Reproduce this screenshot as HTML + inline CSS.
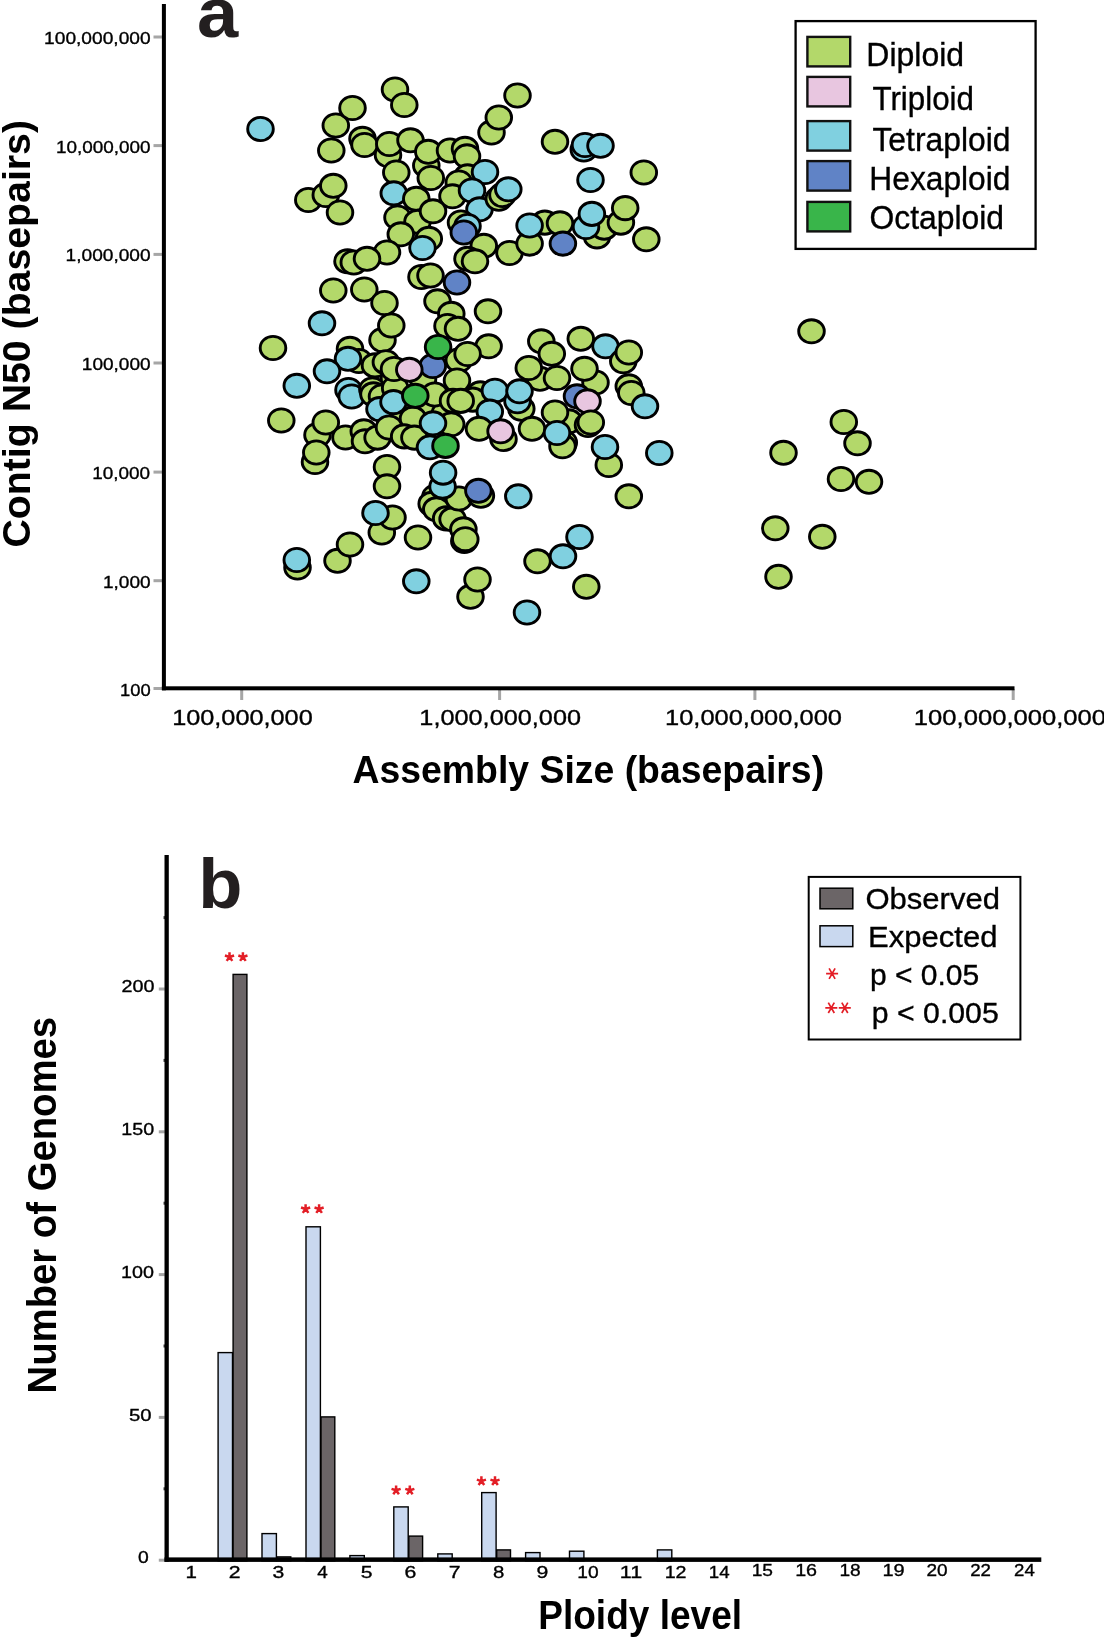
<!DOCTYPE html>
<html><head><meta charset="utf-8"><title>Figure</title>
<style>html,body{margin:0;padding:0;background:#fff}svg{display:block;will-change:transform}text{font-family:"Liberation Sans",sans-serif;fill:#000}</style></head><body>
<svg width="1104" height="1637" viewBox="0 0 1104 1637">
<rect width="1104" height="1637" fill="#fff"/>
<g id="panel-a">
<rect x="153.5" y="35.5" width="9" height="3" fill="#a6a6a6"/>
<rect x="153.5" y="144.1" width="9" height="3" fill="#a6a6a6"/>
<rect x="153.5" y="252.9" width="9" height="3" fill="#a6a6a6"/>
<rect x="153.5" y="361.5" width="9" height="3" fill="#a6a6a6"/>
<rect x="153.5" y="470.6" width="9" height="3" fill="#a6a6a6"/>
<rect x="153.5" y="579.2" width="9" height="3" fill="#a6a6a6"/>
<rect x="153.5" y="687.0" width="9" height="3" fill="#a6a6a6"/>
<rect x="240.2" y="689" width="3" height="11" fill="#a6a6a6"/>
<rect x="498.1" y="689" width="3" height="11" fill="#a6a6a6"/>
<rect x="753.4" y="689" width="3" height="11" fill="#a6a6a6"/>
<rect x="1011.7" y="689" width="3" height="11" fill="#a6a6a6"/>
<text x="44.08" y="44.0" font-size="17.2" textLength="106.54" lengthAdjust="spacingAndGlyphs" stroke="#000" stroke-width="0.35">100,000,000</text>
<text x="56.01" y="152.6" font-size="17.2" textLength="94.62" lengthAdjust="spacingAndGlyphs" stroke="#000" stroke-width="0.35">10,000,000</text>
<text x="65.57" y="261.4" font-size="17.2" textLength="85.05" lengthAdjust="spacingAndGlyphs" stroke="#000" stroke-width="0.35">1,000,000</text>
<text x="81.87" y="370.0" font-size="17.2" textLength="68.75" lengthAdjust="spacingAndGlyphs" stroke="#000" stroke-width="0.35">100,000</text>
<text x="92.29" y="479.1" font-size="17.2" textLength="57.84" lengthAdjust="spacingAndGlyphs" stroke="#000" stroke-width="0.35">10,000</text>
<text x="103.01" y="587.7" font-size="17.2" textLength="47.64" lengthAdjust="spacingAndGlyphs" stroke="#000" stroke-width="0.35">1,000</text>
<text x="120.02" y="695.5" font-size="17.2" textLength="30.66" lengthAdjust="spacingAndGlyphs" stroke="#000" stroke-width="0.35">100</text>
<text x="172.17" y="725.4" font-size="22" textLength="140.57" lengthAdjust="spacingAndGlyphs" stroke="#000" stroke-width="0.35">100,000,000</text>
<text x="419.39" y="725.4" font-size="22" textLength="161.65" lengthAdjust="spacingAndGlyphs" stroke="#000" stroke-width="0.35">1,000,000,000</text>
<text x="664.99" y="725.4" font-size="22" textLength="177.01" lengthAdjust="spacingAndGlyphs" stroke="#000" stroke-width="0.35">10,000,000,000</text>
<text x="913.80" y="725.4" font-size="22" textLength="192.30" lengthAdjust="spacingAndGlyphs" stroke="#000" stroke-width="0.35">100,000,000,000</text>
<rect x="161.9" y="4" width="4" height="686.3" fill="#000"/>
<rect x="161.9" y="686.3" width="852.6" height="4" fill="#000"/>
<ellipse cx="260.5" cy="129" rx="12.8" ry="11.6" fill="#80d0e0" stroke="#000" stroke-width="2.9"/>
<ellipse cx="395" cy="89.5" rx="12.8" ry="11.6" fill="#b3d86a" stroke="#000" stroke-width="2.9"/>
<ellipse cx="404.3" cy="105" rx="12.8" ry="11.6" fill="#b3d86a" stroke="#000" stroke-width="2.9"/>
<ellipse cx="335.8" cy="125.5" rx="12.8" ry="11.6" fill="#b3d86a" stroke="#000" stroke-width="2.9"/>
<ellipse cx="352.5" cy="108" rx="12.8" ry="11.6" fill="#b3d86a" stroke="#000" stroke-width="2.9"/>
<ellipse cx="331.3" cy="150.5" rx="12.8" ry="11.6" fill="#b3d86a" stroke="#000" stroke-width="2.9"/>
<ellipse cx="362.5" cy="138.8" rx="12.8" ry="11.6" fill="#b3d86a" stroke="#000" stroke-width="2.9"/>
<ellipse cx="364.5" cy="145" rx="12.8" ry="11.6" fill="#b3d86a" stroke="#000" stroke-width="2.9"/>
<ellipse cx="388" cy="155" rx="12.8" ry="11.6" fill="#b3d86a" stroke="#000" stroke-width="2.9"/>
<ellipse cx="389.3" cy="144" rx="12.8" ry="11.6" fill="#b3d86a" stroke="#000" stroke-width="2.9"/>
<ellipse cx="410.5" cy="140.3" rx="12.8" ry="11.6" fill="#b3d86a" stroke="#000" stroke-width="2.9"/>
<ellipse cx="426.3" cy="165.5" rx="12.8" ry="11.6" fill="#b3d86a" stroke="#000" stroke-width="2.9"/>
<ellipse cx="428.3" cy="151.8" rx="12.8" ry="11.6" fill="#b3d86a" stroke="#000" stroke-width="2.9"/>
<ellipse cx="450" cy="150.5" rx="12.8" ry="11.6" fill="#b3d86a" stroke="#000" stroke-width="2.9"/>
<ellipse cx="465" cy="148.8" rx="12.8" ry="11.6" fill="#b3d86a" stroke="#000" stroke-width="2.9"/>
<ellipse cx="467" cy="156.3" rx="12.8" ry="11.6" fill="#b3d86a" stroke="#000" stroke-width="2.9"/>
<ellipse cx="396.3" cy="172.5" rx="12.8" ry="11.6" fill="#b3d86a" stroke="#000" stroke-width="2.9"/>
<ellipse cx="430.8" cy="178" rx="12.8" ry="11.6" fill="#b3d86a" stroke="#000" stroke-width="2.9"/>
<ellipse cx="467.5" cy="176.3" rx="12.8" ry="11.6" fill="#b3d86a" stroke="#000" stroke-width="2.9"/>
<ellipse cx="458.8" cy="182.5" rx="12.8" ry="11.6" fill="#b3d86a" stroke="#000" stroke-width="2.9"/>
<ellipse cx="452.5" cy="196.3" rx="12.8" ry="11.6" fill="#b3d86a" stroke="#000" stroke-width="2.9"/>
<ellipse cx="485" cy="172" rx="12.8" ry="11.6" fill="#80d0e0" stroke="#000" stroke-width="2.9"/>
<ellipse cx="472" cy="190.5" rx="12.8" ry="11.6" fill="#80d0e0" stroke="#000" stroke-width="2.9"/>
<ellipse cx="393.8" cy="193.3" rx="12.8" ry="11.6" fill="#80d0e0" stroke="#000" stroke-width="2.9"/>
<ellipse cx="416.3" cy="198.8" rx="12.8" ry="11.6" fill="#b3d86a" stroke="#000" stroke-width="2.9"/>
<ellipse cx="479.5" cy="209.3" rx="12.8" ry="11.6" fill="#80d0e0" stroke="#000" stroke-width="2.9"/>
<ellipse cx="308.3" cy="200" rx="12.8" ry="11.6" fill="#b3d86a" stroke="#000" stroke-width="2.9"/>
<ellipse cx="325.8" cy="195" rx="12.8" ry="11.6" fill="#b3d86a" stroke="#000" stroke-width="2.9"/>
<ellipse cx="333.3" cy="185.8" rx="12.8" ry="11.6" fill="#b3d86a" stroke="#000" stroke-width="2.9"/>
<ellipse cx="340" cy="212.5" rx="12.8" ry="11.6" fill="#b3d86a" stroke="#000" stroke-width="2.9"/>
<ellipse cx="397.5" cy="217.5" rx="12.8" ry="11.6" fill="#b3d86a" stroke="#000" stroke-width="2.9"/>
<ellipse cx="417.5" cy="221.8" rx="12.8" ry="11.6" fill="#b3d86a" stroke="#000" stroke-width="2.9"/>
<ellipse cx="433" cy="211.3" rx="12.8" ry="11.6" fill="#b3d86a" stroke="#000" stroke-width="2.9"/>
<ellipse cx="400.8" cy="234.3" rx="12.8" ry="11.6" fill="#b3d86a" stroke="#000" stroke-width="2.9"/>
<ellipse cx="428.8" cy="238.8" rx="12.8" ry="11.6" fill="#b3d86a" stroke="#000" stroke-width="2.9"/>
<ellipse cx="422.5" cy="248" rx="12.8" ry="11.6" fill="#80d0e0" stroke="#000" stroke-width="2.9"/>
<ellipse cx="387" cy="252.5" rx="12.8" ry="11.6" fill="#b3d86a" stroke="#000" stroke-width="2.9"/>
<ellipse cx="347.5" cy="261.3" rx="12.8" ry="11.6" fill="#b3d86a" stroke="#000" stroke-width="2.9"/>
<ellipse cx="353.8" cy="262.5" rx="12.8" ry="11.6" fill="#b3d86a" stroke="#000" stroke-width="2.9"/>
<ellipse cx="367" cy="258.8" rx="12.8" ry="11.6" fill="#b3d86a" stroke="#000" stroke-width="2.9"/>
<ellipse cx="461" cy="222.5" rx="12.8" ry="11.6" fill="#b3d86a" stroke="#000" stroke-width="2.9"/>
<ellipse cx="467.5" cy="226" rx="12.8" ry="11.6" fill="#80d0e0" stroke="#000" stroke-width="2.9"/>
<ellipse cx="463.8" cy="232.5" rx="12.8" ry="11.6" fill="#6083c6" stroke="#000" stroke-width="2.9"/>
<ellipse cx="483.8" cy="245.8" rx="12.8" ry="11.6" fill="#b3d86a" stroke="#000" stroke-width="2.9"/>
<ellipse cx="467.5" cy="258.8" rx="12.8" ry="11.6" fill="#b3d86a" stroke="#000" stroke-width="2.9"/>
<ellipse cx="475" cy="261.3" rx="12.8" ry="11.6" fill="#b3d86a" stroke="#000" stroke-width="2.9"/>
<ellipse cx="491.5" cy="132.5" rx="12.8" ry="11.6" fill="#b3d86a" stroke="#000" stroke-width="2.9"/>
<ellipse cx="498.8" cy="117.5" rx="12.8" ry="11.6" fill="#b3d86a" stroke="#000" stroke-width="2.9"/>
<ellipse cx="517.5" cy="95.5" rx="12.8" ry="11.6" fill="#b3d86a" stroke="#000" stroke-width="2.9"/>
<ellipse cx="498.8" cy="198.8" rx="12.8" ry="11.6" fill="#b3d86a" stroke="#000" stroke-width="2.9"/>
<ellipse cx="502.5" cy="195" rx="12.8" ry="11.6" fill="#b3d86a" stroke="#000" stroke-width="2.9"/>
<ellipse cx="508.3" cy="189.3" rx="12.8" ry="11.6" fill="#80d0e0" stroke="#000" stroke-width="2.9"/>
<ellipse cx="509.5" cy="253" rx="12.8" ry="11.6" fill="#b3d86a" stroke="#000" stroke-width="2.9"/>
<ellipse cx="555" cy="141.8" rx="12.8" ry="11.6" fill="#b3d86a" stroke="#000" stroke-width="2.9"/>
<ellipse cx="583.8" cy="149.5" rx="12.8" ry="11.6" fill="#80d0e0" stroke="#000" stroke-width="2.9"/>
<ellipse cx="585" cy="145" rx="12.8" ry="11.6" fill="#80d0e0" stroke="#000" stroke-width="2.9"/>
<ellipse cx="600.5" cy="145.8" rx="12.8" ry="11.6" fill="#80d0e0" stroke="#000" stroke-width="2.9"/>
<ellipse cx="590.5" cy="180" rx="12.8" ry="11.6" fill="#80d0e0" stroke="#000" stroke-width="2.9"/>
<ellipse cx="643.8" cy="172.5" rx="12.8" ry="11.6" fill="#b3d86a" stroke="#000" stroke-width="2.9"/>
<ellipse cx="529.6" cy="243.6" rx="12.8" ry="11.6" fill="#b3d86a" stroke="#000" stroke-width="2.9"/>
<ellipse cx="544.8" cy="222.6" rx="12.8" ry="11.6" fill="#b3d86a" stroke="#000" stroke-width="2.9"/>
<ellipse cx="529.6" cy="225.5" rx="12.8" ry="11.6" fill="#80d0e0" stroke="#000" stroke-width="2.9"/>
<ellipse cx="560" cy="223.3" rx="12.8" ry="11.6" fill="#b3d86a" stroke="#000" stroke-width="2.9"/>
<ellipse cx="562.9" cy="243.6" rx="12.8" ry="11.6" fill="#6083c6" stroke="#000" stroke-width="2.9"/>
<ellipse cx="597" cy="236.4" rx="12.8" ry="11.6" fill="#b3d86a" stroke="#000" stroke-width="2.9"/>
<ellipse cx="604.2" cy="227.7" rx="12.8" ry="11.6" fill="#b3d86a" stroke="#000" stroke-width="2.9"/>
<ellipse cx="586" cy="227" rx="12.8" ry="11.6" fill="#80d0e0" stroke="#000" stroke-width="2.9"/>
<ellipse cx="591.9" cy="213.9" rx="12.8" ry="11.6" fill="#80d0e0" stroke="#000" stroke-width="2.9"/>
<ellipse cx="620.9" cy="222.6" rx="12.8" ry="11.6" fill="#b3d86a" stroke="#000" stroke-width="2.9"/>
<ellipse cx="625.2" cy="208.1" rx="12.8" ry="11.6" fill="#b3d86a" stroke="#000" stroke-width="2.9"/>
<ellipse cx="646.3" cy="239.3" rx="12.8" ry="11.6" fill="#b3d86a" stroke="#000" stroke-width="2.9"/>
<ellipse cx="333.3" cy="290.5" rx="12.8" ry="11.6" fill="#b3d86a" stroke="#000" stroke-width="2.9"/>
<ellipse cx="364.3" cy="289.5" rx="12.8" ry="11.6" fill="#b3d86a" stroke="#000" stroke-width="2.9"/>
<ellipse cx="384.5" cy="303" rx="12.8" ry="11.6" fill="#b3d86a" stroke="#000" stroke-width="2.9"/>
<ellipse cx="382.5" cy="340" rx="12.8" ry="11.6" fill="#b3d86a" stroke="#000" stroke-width="2.9"/>
<ellipse cx="391.3" cy="325.5" rx="12.8" ry="11.6" fill="#b3d86a" stroke="#000" stroke-width="2.9"/>
<ellipse cx="322" cy="323.3" rx="12.8" ry="11.6" fill="#80d0e0" stroke="#000" stroke-width="2.9"/>
<ellipse cx="273" cy="348" rx="12.8" ry="11.6" fill="#b3d86a" stroke="#000" stroke-width="2.9"/>
<ellipse cx="350" cy="348.8" rx="12.8" ry="11.6" fill="#b3d86a" stroke="#000" stroke-width="2.9"/>
<ellipse cx="358.8" cy="361" rx="12.8" ry="11.6" fill="#b3d86a" stroke="#000" stroke-width="2.9"/>
<ellipse cx="348" cy="358.8" rx="12.8" ry="11.6" fill="#80d0e0" stroke="#000" stroke-width="2.9"/>
<ellipse cx="327" cy="371.3" rx="12.8" ry="11.6" fill="#80d0e0" stroke="#000" stroke-width="2.9"/>
<ellipse cx="296.8" cy="385.8" rx="12.8" ry="11.6" fill="#80d0e0" stroke="#000" stroke-width="2.9"/>
<ellipse cx="375" cy="365.4" rx="12.8" ry="11.6" fill="#b3d86a" stroke="#000" stroke-width="2.9"/>
<ellipse cx="385.9" cy="362.2" rx="12.8" ry="11.6" fill="#b3d86a" stroke="#000" stroke-width="2.9"/>
<ellipse cx="421.5" cy="277" rx="12.8" ry="11.6" fill="#b3d86a" stroke="#000" stroke-width="2.9"/>
<ellipse cx="430.5" cy="275.5" rx="12.8" ry="11.6" fill="#b3d86a" stroke="#000" stroke-width="2.9"/>
<ellipse cx="457" cy="282.5" rx="12.8" ry="11.6" fill="#6083c6" stroke="#000" stroke-width="2.9"/>
<ellipse cx="437.5" cy="301.3" rx="12.8" ry="11.6" fill="#b3d86a" stroke="#000" stroke-width="2.9"/>
<ellipse cx="451.3" cy="313.8" rx="12.8" ry="11.6" fill="#b3d86a" stroke="#000" stroke-width="2.9"/>
<ellipse cx="447.5" cy="326" rx="12.8" ry="11.6" fill="#b3d86a" stroke="#000" stroke-width="2.9"/>
<ellipse cx="458" cy="328.8" rx="12.8" ry="11.6" fill="#b3d86a" stroke="#000" stroke-width="2.9"/>
<ellipse cx="488" cy="311.3" rx="12.8" ry="11.6" fill="#b3d86a" stroke="#000" stroke-width="2.9"/>
<ellipse cx="488.6" cy="346.3" rx="12.8" ry="11.6" fill="#b3d86a" stroke="#000" stroke-width="2.9"/>
<ellipse cx="458.8" cy="360.3" rx="12.8" ry="11.6" fill="#b3d86a" stroke="#000" stroke-width="2.9"/>
<ellipse cx="467.6" cy="354" rx="12.8" ry="11.6" fill="#b3d86a" stroke="#000" stroke-width="2.9"/>
<ellipse cx="457" cy="380.5" rx="12.8" ry="11.6" fill="#b3d86a" stroke="#000" stroke-width="2.9"/>
<ellipse cx="348.5" cy="390" rx="12.8" ry="11.6" fill="#80d0e0" stroke="#000" stroke-width="2.9"/>
<ellipse cx="351.7" cy="396.5" rx="12.8" ry="11.6" fill="#80d0e0" stroke="#000" stroke-width="2.9"/>
<ellipse cx="372.4" cy="389.5" rx="12.8" ry="11.6" fill="#b3d86a" stroke="#000" stroke-width="2.9"/>
<ellipse cx="373.5" cy="394.3" rx="12.8" ry="11.6" fill="#b3d86a" stroke="#000" stroke-width="2.9"/>
<ellipse cx="382" cy="396.5" rx="12.8" ry="11.6" fill="#b3d86a" stroke="#000" stroke-width="2.9"/>
<ellipse cx="394" cy="378.5" rx="12.8" ry="11.6" fill="#b3d86a" stroke="#000" stroke-width="2.9"/>
<ellipse cx="395.2" cy="388.2" rx="12.8" ry="11.6" fill="#b3d86a" stroke="#000" stroke-width="2.9"/>
<ellipse cx="423" cy="379" rx="12.8" ry="11.6" fill="#b3d86a" stroke="#000" stroke-width="2.9"/>
<ellipse cx="394" cy="369" rx="12.8" ry="11.6" fill="#b3d86a" stroke="#000" stroke-width="2.9"/>
<ellipse cx="432.8" cy="366" rx="12.8" ry="11.6" fill="#6083c6" stroke="#000" stroke-width="2.9"/>
<ellipse cx="409.3" cy="369.8" rx="12.8" ry="11.6" fill="#e8c6e0" stroke="#000" stroke-width="2.9"/>
<ellipse cx="438.1" cy="347" rx="12.8" ry="11.6" fill="#39b54a" stroke="#000" stroke-width="2.9"/>
<ellipse cx="404.9" cy="416" rx="12.8" ry="11.6" fill="#b3d86a" stroke="#000" stroke-width="2.9"/>
<ellipse cx="423.3" cy="411" rx="12.8" ry="11.6" fill="#b3d86a" stroke="#000" stroke-width="2.9"/>
<ellipse cx="413" cy="418.6" rx="12.8" ry="11.6" fill="#b3d86a" stroke="#000" stroke-width="2.9"/>
<ellipse cx="444.8" cy="413.5" rx="12.8" ry="11.6" fill="#b3d86a" stroke="#000" stroke-width="2.9"/>
<ellipse cx="434.7" cy="394.5" rx="12.8" ry="11.6" fill="#b3d86a" stroke="#000" stroke-width="2.9"/>
<ellipse cx="480.3" cy="393.3" rx="12.8" ry="11.6" fill="#b3d86a" stroke="#000" stroke-width="2.9"/>
<ellipse cx="472.7" cy="399.6" rx="12.8" ry="11.6" fill="#b3d86a" stroke="#000" stroke-width="2.9"/>
<ellipse cx="453" cy="400.9" rx="12.8" ry="11.6" fill="#b3d86a" stroke="#000" stroke-width="2.9"/>
<ellipse cx="460.7" cy="400.9" rx="12.8" ry="11.6" fill="#b3d86a" stroke="#000" stroke-width="2.9"/>
<ellipse cx="379.5" cy="409.1" rx="12.8" ry="11.6" fill="#80d0e0" stroke="#000" stroke-width="2.9"/>
<ellipse cx="393.5" cy="402.1" rx="12.8" ry="11.6" fill="#80d0e0" stroke="#000" stroke-width="2.9"/>
<ellipse cx="415.3" cy="395.8" rx="12.8" ry="11.6" fill="#39b54a" stroke="#000" stroke-width="2.9"/>
<ellipse cx="494.9" cy="390.7" rx="12.8" ry="11.6" fill="#80d0e0" stroke="#000" stroke-width="2.9"/>
<ellipse cx="489.8" cy="411.6" rx="12.8" ry="11.6" fill="#80d0e0" stroke="#000" stroke-width="2.9"/>
<ellipse cx="479" cy="428.8" rx="12.8" ry="11.6" fill="#b3d86a" stroke="#000" stroke-width="2.9"/>
<ellipse cx="503.5" cy="439" rx="12.8" ry="11.6" fill="#b3d86a" stroke="#000" stroke-width="2.9"/>
<ellipse cx="500.6" cy="431.3" rx="12.8" ry="11.6" fill="#e8c6e0" stroke="#000" stroke-width="2.9"/>
<ellipse cx="281.3" cy="420.5" rx="12.8" ry="11.6" fill="#b3d86a" stroke="#000" stroke-width="2.9"/>
<ellipse cx="317.5" cy="435" rx="12.8" ry="11.6" fill="#b3d86a" stroke="#000" stroke-width="2.9"/>
<ellipse cx="325.8" cy="422.5" rx="12.8" ry="11.6" fill="#b3d86a" stroke="#000" stroke-width="2.9"/>
<ellipse cx="315" cy="462" rx="12.8" ry="11.6" fill="#b3d86a" stroke="#000" stroke-width="2.9"/>
<ellipse cx="316.3" cy="452.5" rx="12.8" ry="11.6" fill="#b3d86a" stroke="#000" stroke-width="2.9"/>
<ellipse cx="345.5" cy="437.5" rx="12.8" ry="11.6" fill="#b3d86a" stroke="#000" stroke-width="2.9"/>
<ellipse cx="363.8" cy="431.3" rx="12.8" ry="11.6" fill="#b3d86a" stroke="#000" stroke-width="2.9"/>
<ellipse cx="365" cy="441.3" rx="12.8" ry="11.6" fill="#b3d86a" stroke="#000" stroke-width="2.9"/>
<ellipse cx="377.6" cy="437.6" rx="12.8" ry="11.6" fill="#b3d86a" stroke="#000" stroke-width="2.9"/>
<ellipse cx="389" cy="427.5" rx="12.8" ry="11.6" fill="#b3d86a" stroke="#000" stroke-width="2.9"/>
<ellipse cx="404.2" cy="436.4" rx="12.8" ry="11.6" fill="#b3d86a" stroke="#000" stroke-width="2.9"/>
<ellipse cx="414.4" cy="437.6" rx="12.8" ry="11.6" fill="#b3d86a" stroke="#000" stroke-width="2.9"/>
<ellipse cx="451.2" cy="424.3" rx="12.8" ry="11.6" fill="#b3d86a" stroke="#000" stroke-width="2.9"/>
<ellipse cx="433" cy="423.3" rx="12.8" ry="11.6" fill="#80d0e0" stroke="#000" stroke-width="2.9"/>
<ellipse cx="430" cy="447.3" rx="12.8" ry="11.6" fill="#80d0e0" stroke="#000" stroke-width="2.9"/>
<ellipse cx="445.5" cy="445.9" rx="12.8" ry="11.6" fill="#39b54a" stroke="#000" stroke-width="2.9"/>
<ellipse cx="387" cy="467" rx="12.8" ry="11.6" fill="#b3d86a" stroke="#000" stroke-width="2.9"/>
<ellipse cx="387" cy="486.3" rx="12.8" ry="11.6" fill="#b3d86a" stroke="#000" stroke-width="2.9"/>
<ellipse cx="541.3" cy="341.3" rx="12.8" ry="11.6" fill="#b3d86a" stroke="#000" stroke-width="2.9"/>
<ellipse cx="551.8" cy="353.8" rx="12.8" ry="11.6" fill="#b3d86a" stroke="#000" stroke-width="2.9"/>
<ellipse cx="580.8" cy="338.8" rx="12.8" ry="11.6" fill="#b3d86a" stroke="#000" stroke-width="2.9"/>
<ellipse cx="605.5" cy="346.3" rx="12.8" ry="11.6" fill="#80d0e0" stroke="#000" stroke-width="2.9"/>
<ellipse cx="623.3" cy="361.3" rx="12.8" ry="11.6" fill="#b3d86a" stroke="#000" stroke-width="2.9"/>
<ellipse cx="628.8" cy="352.5" rx="12.8" ry="11.6" fill="#b3d86a" stroke="#000" stroke-width="2.9"/>
<ellipse cx="540" cy="378.8" rx="12.8" ry="11.6" fill="#b3d86a" stroke="#000" stroke-width="2.9"/>
<ellipse cx="528.8" cy="368" rx="12.8" ry="11.6" fill="#b3d86a" stroke="#000" stroke-width="2.9"/>
<ellipse cx="557" cy="378" rx="12.8" ry="11.6" fill="#b3d86a" stroke="#000" stroke-width="2.9"/>
<ellipse cx="595.5" cy="382.5" rx="12.8" ry="11.6" fill="#b3d86a" stroke="#000" stroke-width="2.9"/>
<ellipse cx="584.5" cy="368.8" rx="12.8" ry="11.6" fill="#b3d86a" stroke="#000" stroke-width="2.9"/>
<ellipse cx="577" cy="396.3" rx="12.8" ry="11.6" fill="#6083c6" stroke="#000" stroke-width="2.9"/>
<ellipse cx="587.5" cy="401.3" rx="12.8" ry="11.6" fill="#e8c6e0" stroke="#000" stroke-width="2.9"/>
<ellipse cx="628.8" cy="386.3" rx="12.8" ry="11.6" fill="#b3d86a" stroke="#000" stroke-width="2.9"/>
<ellipse cx="631.3" cy="393" rx="12.8" ry="11.6" fill="#b3d86a" stroke="#000" stroke-width="2.9"/>
<ellipse cx="645" cy="406.3" rx="12.8" ry="11.6" fill="#80d0e0" stroke="#000" stroke-width="2.9"/>
<ellipse cx="521.3" cy="408.8" rx="12.8" ry="11.6" fill="#b3d86a" stroke="#000" stroke-width="2.9"/>
<ellipse cx="517.5" cy="401.3" rx="12.8" ry="11.6" fill="#80d0e0" stroke="#000" stroke-width="2.9"/>
<ellipse cx="519.5" cy="391.3" rx="12.8" ry="11.6" fill="#80d0e0" stroke="#000" stroke-width="2.9"/>
<ellipse cx="532" cy="428.8" rx="12.8" ry="11.6" fill="#b3d86a" stroke="#000" stroke-width="2.9"/>
<ellipse cx="568.8" cy="421.3" rx="12.8" ry="11.6" fill="#b3d86a" stroke="#000" stroke-width="2.9"/>
<ellipse cx="555" cy="412.5" rx="12.8" ry="11.6" fill="#b3d86a" stroke="#000" stroke-width="2.9"/>
<ellipse cx="588" cy="425" rx="12.8" ry="11.6" fill="#b3d86a" stroke="#000" stroke-width="2.9"/>
<ellipse cx="590.8" cy="422.5" rx="12.8" ry="11.6" fill="#b3d86a" stroke="#000" stroke-width="2.9"/>
<ellipse cx="563.8" cy="442.5" rx="12.8" ry="11.6" fill="#b3d86a" stroke="#000" stroke-width="2.9"/>
<ellipse cx="562.5" cy="446.3" rx="12.8" ry="11.6" fill="#b3d86a" stroke="#000" stroke-width="2.9"/>
<ellipse cx="557" cy="433" rx="12.8" ry="11.6" fill="#80d0e0" stroke="#000" stroke-width="2.9"/>
<ellipse cx="608.8" cy="465" rx="12.8" ry="11.6" fill="#b3d86a" stroke="#000" stroke-width="2.9"/>
<ellipse cx="605" cy="447" rx="12.8" ry="11.6" fill="#80d0e0" stroke="#000" stroke-width="2.9"/>
<ellipse cx="659.3" cy="453" rx="12.8" ry="11.6" fill="#80d0e0" stroke="#000" stroke-width="2.9"/>
<ellipse cx="435.4" cy="496.7" rx="12.8" ry="11.6" fill="#b3d86a" stroke="#000" stroke-width="2.9"/>
<ellipse cx="431.7" cy="503.9" rx="12.8" ry="11.6" fill="#b3d86a" stroke="#000" stroke-width="2.9"/>
<ellipse cx="436.3" cy="509.3" rx="12.8" ry="11.6" fill="#b3d86a" stroke="#000" stroke-width="2.9"/>
<ellipse cx="446.2" cy="518.4" rx="12.8" ry="11.6" fill="#b3d86a" stroke="#000" stroke-width="2.9"/>
<ellipse cx="452.6" cy="519.3" rx="12.8" ry="11.6" fill="#b3d86a" stroke="#000" stroke-width="2.9"/>
<ellipse cx="458.9" cy="498.5" rx="12.8" ry="11.6" fill="#b3d86a" stroke="#000" stroke-width="2.9"/>
<ellipse cx="463.4" cy="529.3" rx="12.8" ry="11.6" fill="#b3d86a" stroke="#000" stroke-width="2.9"/>
<ellipse cx="464.3" cy="541" rx="12.8" ry="11.6" fill="#b3d86a" stroke="#000" stroke-width="2.9"/>
<ellipse cx="465.3" cy="539.2" rx="12.8" ry="11.6" fill="#b3d86a" stroke="#000" stroke-width="2.9"/>
<ellipse cx="442.6" cy="486.7" rx="12.8" ry="11.6" fill="#80d0e0" stroke="#000" stroke-width="2.9"/>
<ellipse cx="443.1" cy="472.7" rx="12.8" ry="11.6" fill="#80d0e0" stroke="#000" stroke-width="2.9"/>
<ellipse cx="480.9" cy="495.8" rx="12.8" ry="11.6" fill="#b3d86a" stroke="#000" stroke-width="2.9"/>
<ellipse cx="478.4" cy="490.8" rx="12.8" ry="11.6" fill="#6083c6" stroke="#000" stroke-width="2.9"/>
<ellipse cx="381.8" cy="532.5" rx="12.8" ry="11.6" fill="#b3d86a" stroke="#000" stroke-width="2.9"/>
<ellipse cx="392.5" cy="517.5" rx="12.8" ry="11.6" fill="#b3d86a" stroke="#000" stroke-width="2.9"/>
<ellipse cx="375.5" cy="513" rx="12.8" ry="11.6" fill="#80d0e0" stroke="#000" stroke-width="2.9"/>
<ellipse cx="418" cy="537.5" rx="12.8" ry="11.6" fill="#b3d86a" stroke="#000" stroke-width="2.9"/>
<ellipse cx="337.5" cy="560.8" rx="12.8" ry="11.6" fill="#b3d86a" stroke="#000" stroke-width="2.9"/>
<ellipse cx="350" cy="544.5" rx="12.8" ry="11.6" fill="#b3d86a" stroke="#000" stroke-width="2.9"/>
<ellipse cx="297.5" cy="567.5" rx="12.8" ry="11.6" fill="#b3d86a" stroke="#000" stroke-width="2.9"/>
<ellipse cx="296.8" cy="560" rx="12.8" ry="11.6" fill="#80d0e0" stroke="#000" stroke-width="2.9"/>
<ellipse cx="416.3" cy="581.3" rx="12.8" ry="11.6" fill="#80d0e0" stroke="#000" stroke-width="2.9"/>
<ellipse cx="470.5" cy="596.8" rx="12.8" ry="11.6" fill="#b3d86a" stroke="#000" stroke-width="2.9"/>
<ellipse cx="477.5" cy="579.5" rx="12.8" ry="11.6" fill="#b3d86a" stroke="#000" stroke-width="2.9"/>
<ellipse cx="518.3" cy="496.3" rx="12.8" ry="11.6" fill="#80d0e0" stroke="#000" stroke-width="2.9"/>
<ellipse cx="628.8" cy="496.3" rx="12.8" ry="11.6" fill="#b3d86a" stroke="#000" stroke-width="2.9"/>
<ellipse cx="579.5" cy="537" rx="12.8" ry="11.6" fill="#80d0e0" stroke="#000" stroke-width="2.9"/>
<ellipse cx="537.5" cy="561.3" rx="12.8" ry="11.6" fill="#b3d86a" stroke="#000" stroke-width="2.9"/>
<ellipse cx="563" cy="556.3" rx="12.8" ry="11.6" fill="#80d0e0" stroke="#000" stroke-width="2.9"/>
<ellipse cx="586.3" cy="586.8" rx="12.8" ry="11.6" fill="#b3d86a" stroke="#000" stroke-width="2.9"/>
<ellipse cx="527" cy="612.5" rx="12.8" ry="11.6" fill="#80d0e0" stroke="#000" stroke-width="2.9"/>
<ellipse cx="811.5" cy="331.3" rx="12.8" ry="11.6" fill="#b3d86a" stroke="#000" stroke-width="2.9"/>
<ellipse cx="843.8" cy="422" rx="12.8" ry="11.6" fill="#b3d86a" stroke="#000" stroke-width="2.9"/>
<ellipse cx="857.5" cy="443.3" rx="12.8" ry="11.6" fill="#b3d86a" stroke="#000" stroke-width="2.9"/>
<ellipse cx="783.5" cy="452.8" rx="12.8" ry="11.6" fill="#b3d86a" stroke="#000" stroke-width="2.9"/>
<ellipse cx="841" cy="479" rx="12.8" ry="11.6" fill="#b3d86a" stroke="#000" stroke-width="2.9"/>
<ellipse cx="869" cy="481.8" rx="12.8" ry="11.6" fill="#b3d86a" stroke="#000" stroke-width="2.9"/>
<ellipse cx="775.3" cy="528.3" rx="12.8" ry="11.6" fill="#b3d86a" stroke="#000" stroke-width="2.9"/>
<ellipse cx="822.3" cy="536.8" rx="12.8" ry="11.6" fill="#b3d86a" stroke="#000" stroke-width="2.9"/>
<ellipse cx="778.5" cy="576.8" rx="12.8" ry="11.6" fill="#b3d86a" stroke="#000" stroke-width="2.9"/>
<text x="196.9" y="37.4" font-size="70" font-weight="bold" textLength="41.2" lengthAdjust="spacingAndGlyphs" style="fill:#231f20">a</text>
<rect x="795.6" y="21.1" width="240" height="227.8" fill="#fff" stroke="#000" stroke-width="2.3"/>
<rect x="807.4" y="36.9" width="42.8" height="29.5" fill="#b3d86a" stroke="#111" stroke-width="2.4"/>
<rect x="807.4" y="76.9" width="42.8" height="29.5" fill="#e8c6e0" stroke="#111" stroke-width="2.4"/>
<rect x="807.4" y="121.1" width="42.8" height="29.5" fill="#80d0e0" stroke="#111" stroke-width="2.4"/>
<rect x="807.4" y="161.1" width="42.8" height="29.5" fill="#6083c6" stroke="#111" stroke-width="2.4"/>
<rect x="807.4" y="201.9" width="42.8" height="29.5" fill="#39b54a" stroke="#111" stroke-width="2.4"/>
<text x="866.33" y="65.5" font-size="32.3" textLength="97.74" lengthAdjust="spacingAndGlyphs" stroke="#000" stroke-width="0.35">Diploid</text>
<text x="872.46" y="109.5" font-size="32.3" textLength="101.54" lengthAdjust="spacingAndGlyphs" stroke="#000" stroke-width="0.35">Triploid</text>
<text x="872.47" y="150.5" font-size="32.3" textLength="137.94" lengthAdjust="spacingAndGlyphs" stroke="#000" stroke-width="0.35">Tetraploid</text>
<text x="869.36" y="189.5" font-size="32.3" textLength="141.08" lengthAdjust="spacingAndGlyphs" stroke="#000" stroke-width="0.35">Hexaploid</text>
<text x="869.46" y="228.8" font-size="32.3" textLength="134.56" lengthAdjust="spacingAndGlyphs" stroke="#000" stroke-width="0.35">Octaploid</text>
<text x="352.49" y="783.2" font-size="38" font-weight="bold" textLength="471.62" lengthAdjust="spacingAndGlyphs">Assembly Size (basepairs)</text>
<text transform="translate(29.6,547.52) rotate(-90)" font-size="39" font-weight="bold" textLength="427.54" lengthAdjust="spacingAndGlyphs">Contig N50 (basepairs)</text>
</g>
<g id="panel-b">
<rect x="158.8" y="987.5" width="6" height="3" fill="#a6a6a6"/>
<rect x="158.8" y="1130.3" width="6" height="3" fill="#a6a6a6"/>
<rect x="158.8" y="1273.1" width="6" height="3" fill="#a6a6a6"/>
<rect x="158.8" y="1415.9" width="6" height="3" fill="#a6a6a6"/>
<rect x="158.8" y="1558.7" width="6" height="3" fill="#a6a6a6"/>
<rect x="163.5" y="1487.3" width="1.5" height="3" fill="#444"/>
<rect x="163.5" y="1344.5" width="1.5" height="3" fill="#444"/>
<rect x="163.5" y="1201.7" width="1.5" height="3" fill="#444"/>
<rect x="163.5" y="1058.9" width="1.5" height="3" fill="#444"/>
<rect x="163.5" y="916.1" width="1.5" height="3" fill="#444"/>
<text x="121.53" y="992.2" font-size="17" textLength="32.93" lengthAdjust="spacingAndGlyphs" stroke="#000" stroke-width="0.35">200</text>
<text x="121.25" y="1135.0" font-size="17" textLength="32.84" lengthAdjust="spacingAndGlyphs" stroke="#000" stroke-width="0.35">150</text>
<text x="121.03" y="1277.8" font-size="17" textLength="32.93" lengthAdjust="spacingAndGlyphs" stroke="#000" stroke-width="0.35">100</text>
<text x="129.08" y="1420.6" font-size="17" textLength="22.59" lengthAdjust="spacingAndGlyphs" stroke="#000" stroke-width="0.35">50</text>
<text x="138.00" y="1563.4" font-size="17" textLength="10.75" lengthAdjust="spacingAndGlyphs" stroke="#000" stroke-width="0.35">0</text>
<text x="185.45" y="1577.5" font-size="17.2" textLength="11.40" lengthAdjust="spacingAndGlyphs" stroke="#000" stroke-width="0.35">1</text>
<rect x="218.1" y="1352.6" width="14.4" height="208.2" fill="#c9d8ef" stroke="#000" stroke-width="1.4"/>
<rect x="233.1" y="974.4" width="13.8" height="586.4" fill="#6b6567" stroke="#000" stroke-width="1.4"/>
<text x="228.79" y="1577.5" font-size="17.2" textLength="11.80" lengthAdjust="spacingAndGlyphs" stroke="#000" stroke-width="0.35">2</text>
<rect x="262.0" y="1533.6" width="14.4" height="27.2" fill="#c9d8ef" stroke="#000" stroke-width="1.4"/>
<rect x="277.0" y="1556.9" width="13.8" height="3.9" fill="#6b6567" stroke="#000" stroke-width="1.4"/>
<text x="272.57" y="1577.5" font-size="17.2" textLength="11.78" lengthAdjust="spacingAndGlyphs" stroke="#000" stroke-width="0.35">3</text>
<rect x="306.0" y="1226.8" width="14.4" height="334.0" fill="#c9d8ef" stroke="#000" stroke-width="1.4"/>
<rect x="321.0" y="1416.9" width="13.8" height="143.9" fill="#6b6567" stroke="#000" stroke-width="1.4"/>
<text x="317.25" y="1577.5" font-size="17.2" textLength="10.48" lengthAdjust="spacingAndGlyphs" stroke="#000" stroke-width="0.35">4</text>
<rect x="349.9" y="1555.6" width="14.4" height="5.2" fill="#c9d8ef" stroke="#000" stroke-width="1.4"/>
<text x="360.73" y="1577.5" font-size="17.2" textLength="11.77" lengthAdjust="spacingAndGlyphs" stroke="#000" stroke-width="0.35">5</text>
<rect x="393.8" y="1506.9" width="14.4" height="53.9" fill="#c9d8ef" stroke="#000" stroke-width="1.4"/>
<rect x="408.8" y="1536.1" width="13.8" height="24.7" fill="#6b6567" stroke="#000" stroke-width="1.4"/>
<text x="404.56" y="1577.5" font-size="17.2" textLength="11.80" lengthAdjust="spacingAndGlyphs" stroke="#000" stroke-width="0.35">6</text>
<rect x="437.8" y="1553.9" width="14.4" height="6.9" fill="#c9d8ef" stroke="#000" stroke-width="1.4"/>
<text x="448.83" y="1577.5" font-size="17.2" textLength="11.80" lengthAdjust="spacingAndGlyphs" stroke="#000" stroke-width="0.35">7</text>
<rect x="481.7" y="1492.6" width="14.4" height="68.2" fill="#c9d8ef" stroke="#000" stroke-width="1.4"/>
<rect x="496.7" y="1549.9" width="13.8" height="10.9" fill="#6b6567" stroke="#000" stroke-width="1.4"/>
<text x="493.13" y="1577.5" font-size="17.2" textLength="11.33" lengthAdjust="spacingAndGlyphs" stroke="#000" stroke-width="0.35">8</text>
<rect x="525.6" y="1552.6" width="14.4" height="8.2" fill="#c9d8ef" stroke="#000" stroke-width="1.4"/>
<text x="536.47" y="1577.5" font-size="17.2" textLength="11.80" lengthAdjust="spacingAndGlyphs" stroke="#000" stroke-width="0.35">9</text>
<rect x="569.5" y="1551.2" width="14.4" height="9.6" fill="#c9d8ef" stroke="#000" stroke-width="1.4"/>
<text x="577.32" y="1577.5" font-size="17.2" textLength="21.33" lengthAdjust="spacingAndGlyphs" stroke="#000" stroke-width="0.35">10</text>
<text x="619.74" y="1577.5" font-size="17.2" textLength="22.40" lengthAdjust="spacingAndGlyphs" stroke="#000" stroke-width="0.35">11</text>
<rect x="657.4" y="1549.9" width="14.4" height="10.9" fill="#c9d8ef" stroke="#000" stroke-width="1.4"/>
<text x="664.70" y="1577.5" font-size="17.2" textLength="21.88" lengthAdjust="spacingAndGlyphs" stroke="#000" stroke-width="0.35">12</text>
<text x="708.87" y="1577.5" font-size="17.2" textLength="20.81" lengthAdjust="spacingAndGlyphs" stroke="#000" stroke-width="0.35">14</text>
<text x="751.70" y="1575.5" font-size="17.2" textLength="21.33" lengthAdjust="spacingAndGlyphs" stroke="#000" stroke-width="0.35">15</text>
<text x="795.16" y="1575.5" font-size="17.2" textLength="21.90" lengthAdjust="spacingAndGlyphs" stroke="#000" stroke-width="0.35">16</text>
<text x="839.41" y="1575.5" font-size="17.2" textLength="21.28" lengthAdjust="spacingAndGlyphs" stroke="#000" stroke-width="0.35">18</text>
<text x="882.49" y="1575.5" font-size="17.2" textLength="22.22" lengthAdjust="spacingAndGlyphs" stroke="#000" stroke-width="0.35">19</text>
<text x="926.48" y="1575.5" font-size="17.2" textLength="21.17" lengthAdjust="spacingAndGlyphs" stroke="#000" stroke-width="0.35">20</text>
<text x="970.24" y="1575.5" font-size="17.2" textLength="20.77" lengthAdjust="spacingAndGlyphs" stroke="#000" stroke-width="0.35">22</text>
<text x="1014.07" y="1575.5" font-size="17.2" textLength="20.70" lengthAdjust="spacingAndGlyphs" stroke="#000" stroke-width="0.35">24</text>
<rect x="164.5" y="855" width="4.3" height="706.7" fill="#000"/>
<rect x="164.5" y="1557.4" width="876.8" height="4.5" fill="#000"/>
<path d="M229.5 957.0L229.50 952.20M229.5 957.0L234.07 955.52M229.5 957.0L232.32 960.88M229.5 957.0L226.68 960.88M229.5 957.0L224.93 955.52" stroke="#e31e26" stroke-width="2.5" fill="none"/>
<path d="M242.9 957.0L242.90 952.20M242.9 957.0L247.47 955.52M242.9 957.0L245.72 960.88M242.9 957.0L240.08 960.88M242.9 957.0L238.33 955.52" stroke="#e31e26" stroke-width="2.5" fill="none"/>
<path d="M305.6 1209.0L305.60 1204.20M305.6 1209.0L310.17 1207.52M305.6 1209.0L308.42 1212.88M305.6 1209.0L302.78 1212.88M305.6 1209.0L301.03 1207.52" stroke="#e31e26" stroke-width="2.5" fill="none"/>
<path d="M319.1 1209.0L319.10 1204.20M319.1 1209.0L323.67 1207.52M319.1 1209.0L321.92 1212.88M319.1 1209.0L316.28 1212.88M319.1 1209.0L314.53 1207.52" stroke="#e31e26" stroke-width="2.5" fill="none"/>
<path d="M396.1 1490.3L396.10 1485.50M396.1 1490.3L400.67 1488.82M396.1 1490.3L398.92 1494.18M396.1 1490.3L393.28 1494.18M396.1 1490.3L391.53 1488.82" stroke="#e31e26" stroke-width="2.5" fill="none"/>
<path d="M409.8 1490.3L409.80 1485.50M409.8 1490.3L414.37 1488.82M409.8 1490.3L412.62 1494.18M409.8 1490.3L406.98 1494.18M409.8 1490.3L405.23 1488.82" stroke="#e31e26" stroke-width="2.5" fill="none"/>
<path d="M481.4 1481.1L481.40 1476.30M481.4 1481.1L485.97 1479.62M481.4 1481.1L484.22 1484.98M481.4 1481.1L478.58 1484.98M481.4 1481.1L476.83 1479.62" stroke="#e31e26" stroke-width="2.5" fill="none"/>
<path d="M495.0 1481.1L495.00 1476.30M495.0 1481.1L499.57 1479.62M495.0 1481.1L497.82 1484.98M495.0 1481.1L492.18 1484.98M495.0 1481.1L490.43 1479.62" stroke="#e31e26" stroke-width="2.5" fill="none"/>
<text x="198.3" y="908" font-size="69.5" font-weight="bold" textLength="44.2" lengthAdjust="spacingAndGlyphs" style="fill:#231f20">b</text>
<rect x="808.7" y="876.9" width="211.7" height="162.6" fill="#fff" stroke="#000" stroke-width="2"/>
<rect x="820" y="888.2" width="32.8" height="20.6" fill="#6b6567" stroke="#000" stroke-width="1.5"/>
<rect x="820" y="925.8" width="32.8" height="20.8" fill="#c9d8ef" stroke="#000" stroke-width="1.5"/>
<text x="865.46" y="909.4" font-size="30" textLength="134.48" lengthAdjust="spacingAndGlyphs" stroke="#000" stroke-width="0.35">Observed</text>
<text x="868.13" y="947.2" font-size="30" textLength="129.40" lengthAdjust="spacingAndGlyphs" stroke="#000" stroke-width="0.35">Expected</text>
<text x="869.96" y="985.0" font-size="30" textLength="109.27" lengthAdjust="spacingAndGlyphs" stroke="#000" stroke-width="0.35">p &lt; 0.05</text>
<text x="871.88" y="1023.0" font-size="30" textLength="126.83" lengthAdjust="spacingAndGlyphs" stroke="#000" stroke-width="0.35">p &lt; 0.005</text>
<path d="M832.1 973.6L838.10 973.60M832.1 973.6L835.10 978.80M832.1 973.6L829.10 978.80M832.1 973.6L826.10 973.60M832.1 973.6L829.10 968.40M832.1 973.6L835.10 968.40" stroke="#e31e26" stroke-width="1.7" fill="none"/>
<path d="M831.3 1007.8L837.30 1007.80M831.3 1007.8L834.30 1013.00M831.3 1007.8L828.30 1013.00M831.3 1007.8L825.30 1007.80M831.3 1007.8L828.30 1002.60M831.3 1007.8L834.30 1002.60" stroke="#e31e26" stroke-width="1.7" fill="none"/>
<path d="M844.8 1007.8L850.80 1007.80M844.8 1007.8L847.80 1013.00M844.8 1007.8L841.80 1013.00M844.8 1007.8L838.80 1007.80M844.8 1007.8L841.80 1002.60M844.8 1007.8L847.80 1002.60" stroke="#e31e26" stroke-width="1.7" fill="none"/>
<text x="538.25" y="1628.5" font-size="40" font-weight="bold" textLength="203.81" lengthAdjust="spacingAndGlyphs">Ploidy level</text>
<text transform="translate(56.4,1393.42) rotate(-90)" font-size="40" font-weight="bold" textLength="376.53" lengthAdjust="spacingAndGlyphs">Number of Genomes</text>
</g>
</svg></body></html>
